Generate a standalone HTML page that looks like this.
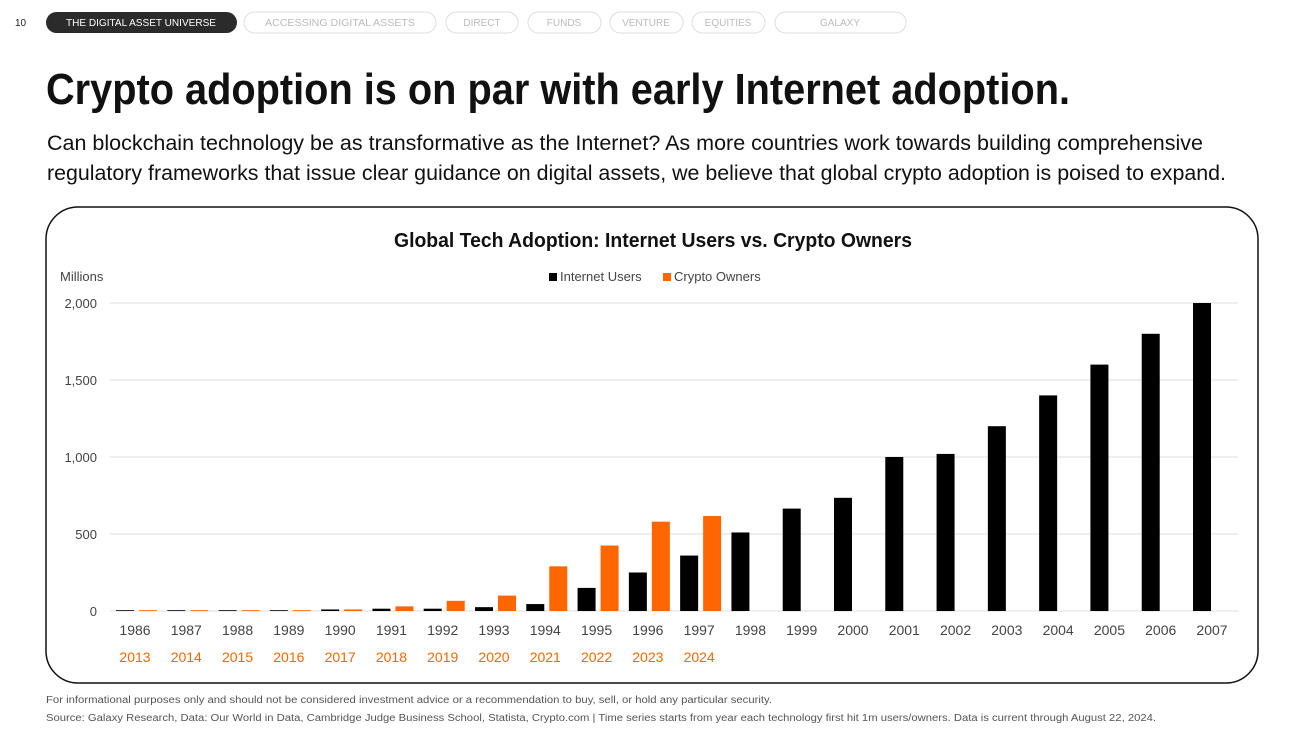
<!DOCTYPE html>
<html><head><meta charset="utf-8"><style>
html,body{margin:0;padding:0;background:#fff;}
svg{display:block;font-family:"Liberation Sans",sans-serif;}
</style></head><body>
<svg id="page" width="1292" height="734" viewBox="0 0 1292 734" xmlns="http://www.w3.org/2000/svg">
<text x="15" y="26" font-size="10" fill="#222">10</text>
<g>
<rect x="46" y="12" width="191" height="21" rx="10.5" fill="#2b2b2b"/>
<text x="141" y="26" font-size="10" fill="#fff" text-anchor="middle" textLength="150" lengthAdjust="spacingAndGlyphs">THE DIGITAL ASSET UNIVERSE</text>
<rect x="244" y="12" width="192" height="21" rx="10.5" fill="none" stroke="#ddd"/>
<text x="340" y="26" font-size="10" fill="#bbb" text-anchor="middle" textLength="150" lengthAdjust="spacingAndGlyphs">ACCESSING DIGITAL ASSETS</text>
<rect x="446" y="12" width="72" height="21" rx="10.5" fill="none" stroke="#ddd"/>
<text x="482" y="26" font-size="10" fill="#bbb" text-anchor="middle">DIRECT</text>
<rect x="528" y="12" width="73" height="21" rx="10.5" fill="none" stroke="#ddd"/>
<text x="564" y="26" font-size="10" fill="#bbb" text-anchor="middle">FUNDS</text>
<rect x="610" y="12" width="73" height="21" rx="10.5" fill="none" stroke="#ddd"/>
<text x="646" y="26" font-size="10" fill="#bbb" text-anchor="middle">VENTURE</text>
<rect x="692" y="12" width="73" height="21" rx="10.5" fill="none" stroke="#ddd"/>
<text x="728" y="26" font-size="10" fill="#bbb" text-anchor="middle">EQUITIES</text>
<rect x="775" y="12" width="131" height="21" rx="10.5" fill="none" stroke="#ddd"/>
<text x="840" y="26" font-size="10" fill="#bbb" text-anchor="middle">GALAXY</text>
</g>
<text x="46" y="104" font-size="44" font-weight="bold" fill="#111" textLength="1024" lengthAdjust="spacingAndGlyphs">Crypto adoption is on par with early Internet adoption.</text>
<text x="47" y="150" font-size="21" fill="#111" textLength="1156" lengthAdjust="spacingAndGlyphs">Can blockchain technology be as transformative as the Internet? As more countries work towards building comprehensive</text>
<text x="47" y="180" font-size="21" fill="#111" textLength="1179" lengthAdjust="spacingAndGlyphs">regulatory frameworks that issue clear guidance on digital assets, we believe that global crypto adoption is poised to expand.</text>
<rect x="46" y="207" width="1212" height="476" rx="32" fill="none" stroke="#111" stroke-width="1.5"/>
<text x="653" y="247" font-size="20" font-weight="bold" fill="#111" text-anchor="middle" textLength="518" lengthAdjust="spacingAndGlyphs">Global Tech Adoption: Internet Users vs. Crypto Owners</text>
<text x="60" y="281" font-size="13" fill="#444">Millions</text>
<g>
<rect x="549" y="273" width="8" height="8" fill="#000"/>
<text x="560" y="281" font-size="13" fill="#444">Internet Users</text>
<rect x="663" y="273" width="8" height="8" fill="#ff6600"/>
<text x="674" y="281" font-size="13" fill="#444">Crypto Owners</text>
</g>
<g id="grid"></g><g id="bars"></g><g id="labels"></g>
<text x="46" y="703" font-size="10" fill="#555" textLength="726" lengthAdjust="spacingAndGlyphs">For informational purposes only and should not be considered investment advice or a recommendation to buy, sell, or hold any particular security.</text>
<text x="46" y="721" font-size="10" fill="#555" textLength="1110" lengthAdjust="spacingAndGlyphs">Source: Galaxy Research, Data: Our World in Data, Cambridge Judge Business School, Statista, Crypto.com  |  Time series starts from year each technology first hit 1m users/owners. Data is current through August 22, 2024.</text>
</svg>
<script>
const internetYears = [1986,1987,1988,1989,1990,1991,1992,1993,1994,1995,1996,1997,1998,1999,2000,2001,2002,2003,2004,2005,2006,2007];
const cryptoYears = [2013,2014,2015,2016,2017,2018,2019,2020,2021,2022,2023,2024];
const internetUsers = [1,1,2,3,10,15,15,25,45,150,250,360,510,665,735,1000,1020,1200,1400,1600,1800,2000];
const cryptoOwners = [1,2,3,5,10,30,66,100,290,425,580,617];
const yTicks = [0,500,1000,1500,2000];
const yTickLabels = ["0","500","1,000","1,500","2,000"];
const NS="http://www.w3.org/2000/svg";
const y0=611, y1=303, x0=110, x1=1238, first=135, step=(1212-135)/21;
const yScale=v=>y0-(v/2000)*(y0-y1);
const xScale=i=>first+i*step;
function mk(tag,attrs,parent,text){const e=document.createElementNS(NS,tag);for(const k in attrs)e.setAttribute(k,attrs[k]);if(text!==undefined)e.textContent=text;document.getElementById(parent).appendChild(e);return e;}
yTicks.forEach((t,i)=>{
  const l=mk('line',{x1:x0,x2:x1,y1:yScale(t),y2:yScale(t),stroke:'#ddd','stroke-width':1},'grid');
  
  
  const tx=mk('text',{x:97,y:yScale(t)+5,'font-size':13,fill:'#444','text-anchor':'end'},'grid',yTickLabels[i]);
  
  
});
internetUsers.forEach((v,i)=>{
  const h=Math.max(yScale(0)-yScale(v),0.8);
  const r=mk('rect',{x:xScale(i)-19,y:y0-h,width:18,height:h,fill:'#000'},'bars');
  
  
});
cryptoOwners.forEach((v,i)=>{
  const h=Math.max(yScale(0)-yScale(v),0.8);
  const r=mk('rect',{x:xScale(i)+4,y:y0-h,width:18,height:h,fill:'#ff6600'},'bars');
  
  
});
internetYears.forEach((yr,i)=>{
  const t=mk('text',{x:xScale(i),y:635,'font-size':14,fill:'#444','text-anchor':'middle'},'labels',yr);
  
  
});
cryptoYears.forEach((yr,i)=>{
  const t=mk('text',{x:xScale(i),y:662,'font-size':14,fill:'#ff6600','text-anchor':'middle'},'labels',yr);
  
  
});
</script>
</body></html>
